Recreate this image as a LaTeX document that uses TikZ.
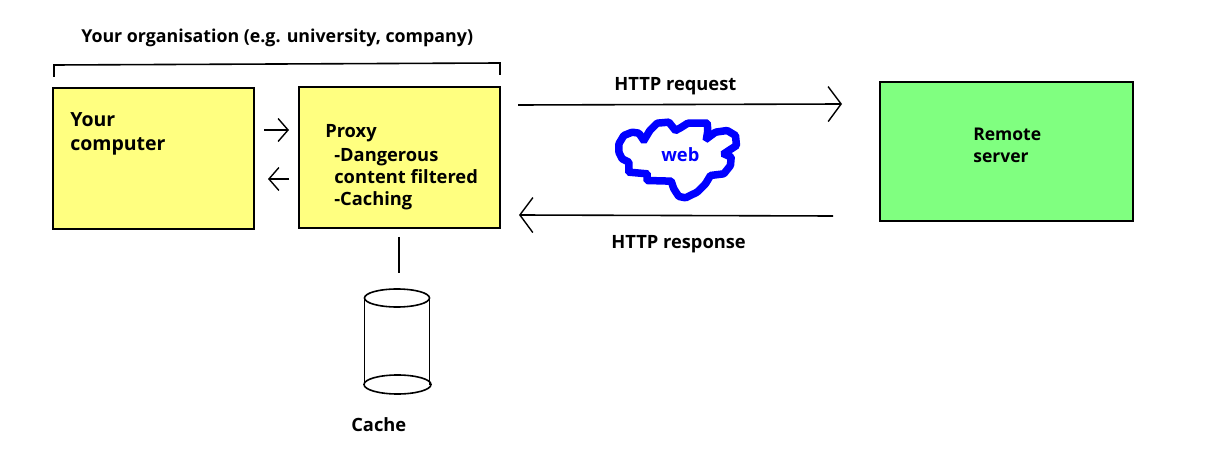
\documentclass[tikz,border=0pt]{standalone}
\usepackage{fontspec}
\setmainfont{Open Sans}
\usetikzlibrary{arrows.meta,shapes.geometric,positioning}
\definecolor{paleyellow}{RGB}{255,255,128}
\definecolor{palegreen}{RGB}{128,255,128}

\begin{document}
\begin{tikzpicture}[
        x=1pt, y=-1pt,
        every path/.style={line width=1.6pt},
        box/.style={draw, minimum height=141pt, inner sep=0pt, outer sep=0pt},
        caption/.style={font=\bfseries\fontsize{18.3}{22}\selectfont, align=left, anchor=north west, inner sep=0pt},
        bigarrow/.style={-{Straight Barb[length=13pt, width=35pt, line width=1.4pt]}},
        smallarrow/.style={-{Straight Barb[length=10pt, width=23pt, line width=1.4pt]}},
        cachelid/.style={draw, ellipse, inner sep=0pt, outer sep=0pt}
    ]
    \useasboundingbox (0,0) rectangle (1211,449);

    % Nodes
    \node (computer)[box, fill=paleyellow, minimum width=201pt] at (153.5,158.5) {};
    \node (proxy)[box, fill=paleyellow, minimum width=201pt, right=45pt of computer, yshift=1pt] {};
    \node (server)[box, fill=palegreen, minimum width=253pt, minimum height=139pt, right=380pt of proxy, yshift=6pt] {};

    \node (organisation)[caption, font=\bfseries\fontsize{17.8}{22}\selectfont] at (80.5,28) {Your organisation (e.g. university, company)};
    \node (computertext)[caption, font=\bfseries\fontsize{19.5}{24}\selectfont] at (69.5,112) {Your\\computer};
    \node (proxytext)[caption] at (324.5,124) {Proxy};
    \node (proxytasks)[caption] at (333.5,148) {-Dangerous\\content filtered\\-Caching};
    \node (servertext)[caption, font=\bfseries\fontsize{17.5}{22}\selectfont] at (972.5,127) {Remote\\server};
    \node (request)[caption] at (613.5,77) {HTTP request};
    \node (response)[caption] at (610.5,235) {HTTP response};
    \node (webtext)[caption, text=blue] at (660.5,147) {web};
    \node (cachetext)[caption] at (350.5,417) {Cache};

    % Cache drum
    \node (cachetop)[cachelid, minimum width=65pt, minimum height=18pt] at (397,298) {};
    \node (cachebottom)[cachelid, minimum width=67pt, minimum height=19pt] at (397.5,384.5) {};
    \draw (cachetop.west) -- (cachetop.west |- cachebottom.west);
    \draw (cachetop.east) -- (cachetop.east |- cachebottom.east);

    % Free ends of the connectors
    \coordinate (bracketleft) at (54,77);
    \coordinate (bracketright) at (500,75);
    \coordinate (requesttail) at (518,105);
    \coordinate (requesttip) at (842,104);
    \coordinate (responsetail) at (833,216);
    \coordinate (responsetip) at (519,215);
    \coordinate (sendtail) at (264,130);
    \coordinate (sendtip) at (289,130);
    \coordinate (gettail) at (289,179);
    \coordinate (gettip) at (268,179);
    \coordinate (drumtop) at (399,237);
    \coordinate (drumbottom) at (399,273);

    % Edges
    \draw (bracketleft) -- (54,65) -- (500,63) -- (bracketright);
    \draw[bigarrow] (requesttail) -- (requesttip);
    \draw[bigarrow] (responsetail) -- (responsetip);
    \draw[smallarrow] (sendtail) -- (sendtip);
    \draw[smallarrow] (gettail) -- (gettip);
    \draw (drumtop) -- (drumbottom);

    % Web cloud
    \draw[blue, line width=7.5pt, rounded corners=1pt, shift={(600.5,110.5)}, x=0.3333pt, y=-0.3333pt]
        (55,100) -- (70,75) -- (95,65) -- (115,68) -- (130,90) -- (148,60) -- (170,38)
        -- (205,35) -- (225,60) -- (240,52) -- (262,38) -- (320,38) -- (322,60) -- (318,85)
        -- (345,65) -- (380,60) -- (405,75) -- (408,105) -- (385,120) -- (370,130) -- (392,140)
        -- (390,165) -- (370,190) -- (330,195) -- (315,220) -- (290,245) -- (255,262) -- (235,258)
        -- (220,235) -- (212,212) -- (140,210) -- (140,190) -- (85,185) -- (85,155) -- (65,145)
        -- (55,125) -- cycle;
\end{tikzpicture}
\end{document}
